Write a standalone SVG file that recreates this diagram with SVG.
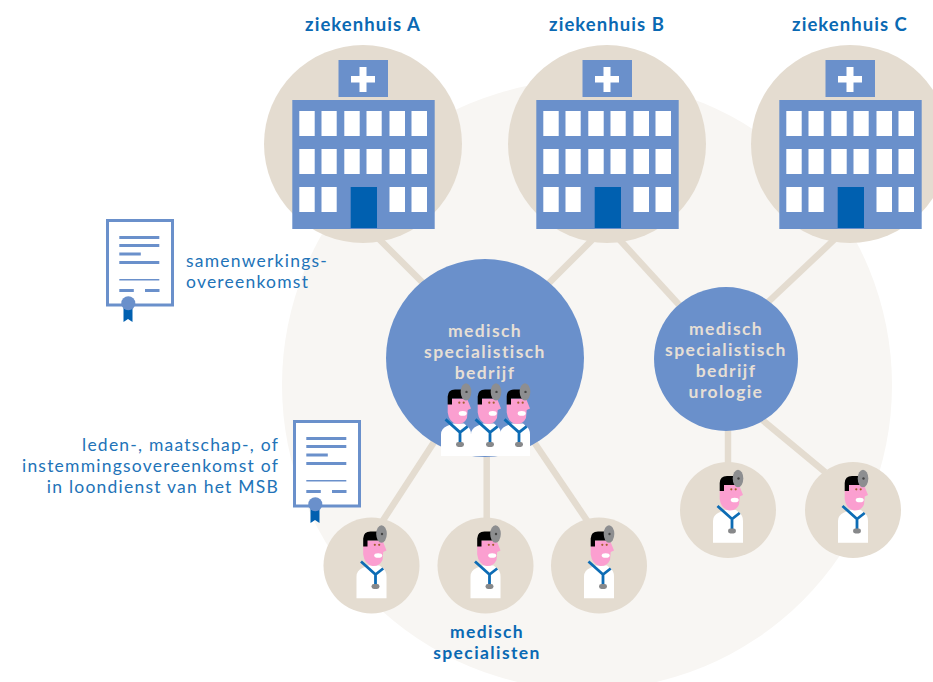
<svg xmlns="http://www.w3.org/2000/svg" xmlns:xlink="http://www.w3.org/1999/xlink" width="933" height="682" viewBox="0 0 933 682">
<style>
text{font-family:"Lato","Open Sans","Liberation Sans",sans-serif;text-anchor:middle}
.h{font-size:18.500px;font-weight:700;fill:#0a69b3;letter-spacing:1.05px}
.b{font-size:17.500px;fill:#2273b8;letter-spacing:1.22px}
.w{font-size:17.500px;font-weight:700;fill:#e6dfd5;letter-spacing:1.4px}
.e{font-size:17.500px;font-weight:700;fill:#0a69b3;letter-spacing:1.4px}
.r{text-anchor:end}
.l{text-anchor:start}
.disc{fill:#e4dcd0}
.blue{fill:#6a90cb}
.win{fill:#fff}
.conn{stroke:#e4dcd0;stroke-width:6.500;fill:none}
</style>
<defs>
<g id="hospital">
<circle class="disc" cx="0" cy="1" r="99"/>
<rect class="blue" x="-24.500" y="-83" width="49.500" height="37"/>
<path class="win" d="M-3.500-76H3.500V-67H12V-60.500H3.500V-51H-3.500V-60.500H-12V-67H-3.500Z"/>
<rect class="blue" x="-70.700" y="-43" width="142.400" height="129"/>
<g class="win">
<rect x="-63.700" y="-32" width="15.400" height="25"/><rect x="-41.500" y="-32" width="15.200" height="25"/><rect x="-18.700" y="-32" width="15.400" height="25"/><rect x="3.500" y="-32" width="15.200" height="25"/><rect x="26.500" y="-32" width="15.500" height="25"/><rect x="48.500" y="-32" width="15.500" height="25"/>
<rect x="-63.700" y="6" width="15.400" height="25"/><rect x="-41.500" y="6" width="15.200" height="25"/><rect x="-18.700" y="6" width="15.400" height="25"/><rect x="3.500" y="6" width="15.200" height="25"/><rect x="26.500" y="6" width="15.500" height="25"/><rect x="48.500" y="6" width="15.500" height="25"/>
<rect x="-63.700" y="44" width="15.400" height="25"/><rect x="-41.500" y="44" width="15.200" height="25"/><rect x="26.500" y="44" width="15.500" height="25"/><rect x="48.500" y="44" width="15.500" height="25"/>
</g>
<rect x="-12.300" y="44" width="26.300" height="41" fill="#0060b0"/>
</g>
<g id="doctor">
<path fill="#fff" d="M-15 32.700V11Q-15 5-9 2.500L-3 0H8L11 2.500Q15 5 15 11V32.700Z"/>
<path fill="#fb9fd0" d="M-8.300-19V-11Q-7-1 1 .5Q8 1 11-5.500L11.700-13.500L15-15L11-25H-4Z"/>
<path fill="#000" d="M-8.300-19V-27Q-8-34-1-34H8V-25H-4V-19Z"/>
<ellipse cx="10" cy="-31.500" rx="5.300" ry="8.700" fill="#8d8e90"/>
<circle cx="10.500" cy="-31.500" r="1.200" fill="#444"/>
<circle cx="3.300" cy="-20.700" r="1.100" fill="#a5602f"/><circle cx="7.700" cy="-20.700" r="1.100" fill="#a5602f"/>
<ellipse cx="6.700" cy="-10" rx="4" ry="2.300" fill="#fff"/>
<path d="M-10.500-4L4 9L11.700 3M4 9V19" stroke="#0d6cb5" stroke-width="2.800" fill="none"/>
<rect x="0" y="18.500" width="8" height="5" rx="2.400" fill="#87888a"/>
</g>
<g id="cert">
<rect x="1.500" y="1.500" width="65" height="84.500" fill="#fff" stroke="#6a90cb" stroke-width="3"/>
<g fill="#6a90cb">
<rect x="13.300" y="17" width="40" height="3"/><rect x="13.300" y="25" width="40" height="3"/><rect x="13.300" y="33.500" width="21.500" height="3"/><rect x="13.300" y="42" width="40" height="3"/><rect x="13.300" y="60" width="40" height="1.500"/><rect x="13.300" y="70" width="14.500" height="3"/><rect x="39" y="70" width="14.500" height="3"/>
</g>
<path fill="#0060b0" d="M17.500 88H26.500V103L22 100L17.500 103Z"/>
<circle cx="22.300" cy="84.300" r="7" fill="#6a90cb"/>
</g>
</defs>
<circle id="bigcircle" cx="587" cy="385" r="305" fill="#f8f6f3"/>
<g id="connectors">
<path class="conn" d="M378 238L428 288"/>
<path class="conn" d="M594 238L545 287"/>
<path class="conn" d="M618 238L682 308"/>
<path class="conn" d="M838 236L765 305"/>
<path class="conn" d="M438 436L380 525"/>
<path class="conn" d="M486.700 450V525"/>
<path class="conn" d="M534 442L590 525"/>
<path class="conn" d="M728 425V470"/>
<path class="conn" d="M760 418L825 472"/>
</g>
<g id="hospital-a"><use href="#hospital" x="363" y="143"/><text class="h" x="363" y="31">ziekenhuis A</text></g>
<g id="hospital-b"><use href="#hospital" x="607" y="143"/><text class="h" x="607" y="31">ziekenhuis B</text></g>
<g id="hospital-c"><use href="#hospital" x="850" y="143"/><text class="h" x="850" y="31">ziekenhuis C</text></g>
<g id="msb">
<circle cx="485" cy="358" r="99" class="blue"/>
<text class="w"><tspan x="485" y="337">medisch</tspan><tspan x="485" y="358">specialistisch</tspan><tspan x="485" y="379">bedrijf</tspan></text>
<use href="#doctor" x="456" y="423.400"/><use href="#doctor" x="486" y="423.400"/><use href="#doctor" x="515" y="423.400"/>
</g>
<g id="msb-urologie">
<circle cx="726" cy="359" r="72" class="blue"/>
<text class="w"><tspan x="726" y="335">medisch</tspan><tspan x="726" y="356">specialistisch</tspan><tspan x="726" y="377">bedrijf</tspan><tspan x="726" y="398">urologie</tspan></text>
</g>
<g id="spec-1"><circle class="disc" cx="371.500" cy="565.500" r="48"/><use href="#doctor" x="371.500" y="565.500"/></g>
<g id="spec-2"><circle class="disc" cx="485.500" cy="565.500" r="48"/><use href="#doctor" x="485.500" y="565.500"/></g>
<g id="spec-3"><circle class="disc" cx="599" cy="565.500" r="48"/><use href="#doctor" x="599" y="565.500"/></g>
<g id="spec-4"><circle class="disc" cx="728" cy="510" r="48"/><use href="#doctor" x="728" y="510"/></g>
<g id="spec-5"><circle class="disc" cx="853" cy="510" r="48"/><use href="#doctor" x="853" y="510"/></g>
<g id="cert-1"><use href="#cert" x="106" y="219"/>
<text class="b l"><tspan x="186" y="267">samenwerkings-</tspan><tspan x="186" y="288">overeenkomst</tspan></text></g>
<g id="cert-2"><use href="#cert" x="293" y="420"/>
<text class="b r"><tspan x="279" y="451">leden-, maatschap-, of</tspan><tspan x="279" y="472">instemmingsovereenkomst of</tspan><tspan x="279" y="493">in loondienst van het MSB</tspan></text></g>
<g id="label-specialisten">
<text class="e"><tspan x="487" y="638">medisch</tspan><tspan x="487" y="659">specialisten</tspan></text>
</g>
</svg>
